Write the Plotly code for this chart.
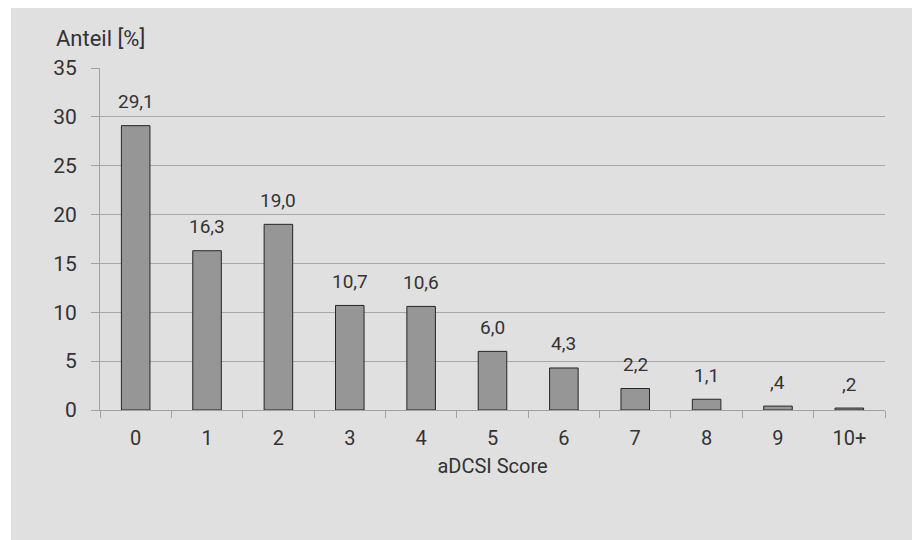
import plotly.graph_objects as go

categories = ["0", "1", "2", "3", "4", "5", "6", "7", "8", "9", "10+"]
shares = [29.1, 16.3, 19.0, 10.7, 10.6, 6.0, 4.3, 2.2, 1.1, 0.4, 0.2]
value_labels = ["29,1", "16,3", "19,0", "10,7", "10,6", "6,0", "4,3", "2,2", "1,1", ",4", ",2"]
y_ticks = [0, 5, 10, 15, 20, 25, 30, 35]

FONT = "Roboto"
TEXT_COLOR = "#333333"

fig = go.Figure(
    go.Bar(
        x=categories,
        y=shares,
        width=0.4,
        marker=dict(color="#969696", line=dict(color="#262626", width=1)),
        hoverinfo="skip",
    )
)

# value labels above the bars
for cat, val, lab in zip(categories, shares, value_labels):
    fig.add_annotation(
        x=cat, y=val, text=lab, showarrow=False,
        yanchor="middle", yshift=24,
        font=dict(family=FONT, size=19, color=TEXT_COLOR),
    )

# grey panel behind the chart
fig.add_shape(
    type="rect", xref="paper", yref="paper",
    x0=-0.1135, x1=1.0344, y0=-0.3801, y1=1.1754,
    fillcolor="#e0e0e0", line=dict(width=0), layer="below",
)

fig.add_annotation(
    xref="paper", yref="paper", x=-0.058, y=1.085,
    text="Anteil [%]", showarrow=False, xanchor="left", yanchor="middle",
    font=dict(family=FONT, size=22, color=TEXT_COLOR),
)

fig.update_layout(
    width=917, height=540,
    margin=dict(l=100, r=32, t=68, b=130),
    paper_bgcolor="white",
    plot_bgcolor="white",
    font=dict(family=FONT, size=20, color=TEXT_COLOR),
    showlegend=False,
    bargap=0.6,
)

fig.update_xaxes(
    type="category",
    tickson="boundaries",
    ticks="outside", ticklen=7, tickcolor="#a0a0a0", tickwidth=1,
    showline=True, linecolor="#a0a0a0", linewidth=1,
    showgrid=False,
    tickfont=dict(family=FONT, size=20, color=TEXT_COLOR),
    ticklabelstandoff=10,
    title=dict(text="aDCSI Score", font=dict(family=FONT, size=20, color=TEXT_COLOR), standoff=9),
)

fig.update_yaxes(
    range=[0, 35],
    tickvals=y_ticks,
    ticks="outside", ticklen=8, tickcolor="#a0a0a0", tickwidth=1,
    showline=True, linecolor="#a0a0a0", linewidth=1,
    showgrid=True, gridcolor="#a8a8a8", gridwidth=1,
    zeroline=False,
    tickfont=dict(family=FONT, size=21, color=TEXT_COLOR),
    ticklabelstandoff=10,
)

fig.write_html("out.html")
